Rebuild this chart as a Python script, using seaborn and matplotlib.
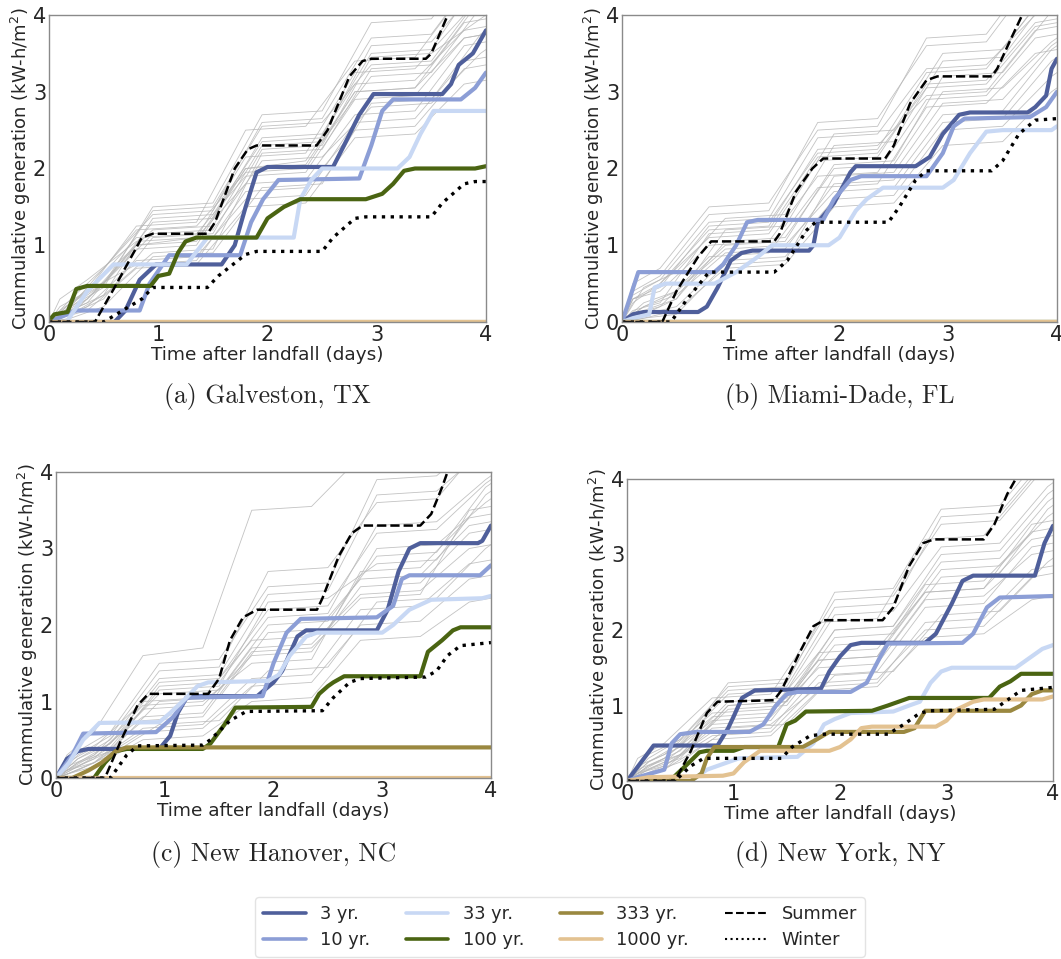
import matplotlib
matplotlib.use("Agg")
import pandas as pd
import matplotlib.pyplot as plt
from matplotlib.lines import Line2D
import seaborn as sns

sns.set_theme(style="white")
plt.rcParams["font.family"] = ["DejaVu Sans"]

# series names / colours
names = ["3 yr.", "10 yr.", "33 yr.", "100 yr.", "333 yr.", "1000 yr.", "Summer", "Winter"]
colors = {"3 yr.": "#4f5f9b", "10 yr.": "#8c9ed6", "33 yr.": "#c8d8f4",
          "100 yr.": "#4a6412", "333 yr.": "#9a8840", "1000 yr.": "#e3c291",
          "Summer": "black", "Winter": "black"}

# ---- (a) Galveston, TX ----
galveston = {
    "3 yr.": ([0, 0.6, 0.7, 0.83, 0.98, 1.58, 1.7, 1.8, 1.9, 2.0, 2.6, 2.7, 2.84, 2.97, 3.6, 3.68, 3.75, 3.88, 4.0],
              [0, 0, 0.15, 0.55, 0.75, 0.75, 1.0, 1.5, 1.95, 2.02, 2.02, 2.3, 2.7, 2.97, 2.97, 3.1, 3.35, 3.5, 3.8]),
    "10 yr.": ([0, 0.25, 0.83, 0.92, 1.1, 1.75, 1.85, 1.96, 2.1, 2.84, 2.95, 3.05, 3.15, 3.77, 3.9, 4.0],
               [0, 0.15, 0.15, 0.5, 0.87, 0.87, 1.3, 1.6, 1.85, 1.87, 2.3, 2.75, 2.9, 2.9, 3.05, 3.25]),
    "33 yr.": ([0, 0.16, 0.35, 0.59, 1.26, 1.45, 2.24, 2.3, 2.4, 2.5, 3.19, 3.3, 3.4, 3.52, 4.0],
               [0, 0, 0.4, 0.75, 0.75, 1.1, 1.1, 1.6, 1.85, 2.0, 2.0, 2.15, 2.45, 2.75, 2.75]),
    "100 yr.": ([0, 0.05, 0.17, 0.25, 0.35, 0.93, 1.0, 1.1, 1.18, 1.25, 1.35, 1.9, 2.0, 2.15, 2.3, 2.9, 3.05, 3.15, 3.25, 3.35, 3.9, 4.0],
                [0.02, 0.1, 0.13, 0.43, 0.47, 0.47, 0.6, 0.63, 0.9, 1.05, 1.1, 1.1, 1.35, 1.5, 1.6, 1.6, 1.67, 1.8, 1.97, 2.0, 2.0, 2.03]),
    "333 yr.": ([0, 4.0], [0, 0]),
    "1000 yr.": ([0, 4.0], [0, 0]),
    "Summer": ([0, 0.42, 0.6, 0.85, 0.95, 1.45, 1.52, 1.7, 1.82, 1.9, 2.45, 2.55, 2.75, 2.87, 2.95, 3.45, 3.5, 3.65],
               [0, 0, 0.45, 1.1, 1.15, 1.15, 1.3, 2.0, 2.25, 2.3, 2.3, 2.5, 3.2, 3.4, 3.43, 3.43, 3.5, 4.0]),
    "Winter": ([0, 0.5, 0.85, 0.95, 1.45, 1.55, 1.8, 1.9, 2.5, 2.6, 2.8, 2.9, 3.5, 3.6, 3.8, 3.9, 4.0],
               [0, 0, 0.3, 0.45, 0.45, 0.6, 0.88, 0.92, 0.92, 1.1, 1.35, 1.37, 1.37, 1.55, 1.8, 1.83, 1.83]),
}

# ---- (b) Miami-Dade, FL ----
miami = {
    "3 yr.": ([0, 0.1, 0.2, 0.7, 0.78, 0.88, 1.0, 1.1, 1.2, 1.72, 1.76, 1.8, 1.95, 2.1, 2.15, 2.7, 2.83, 2.95, 3.1, 3.2, 3.73, 3.8, 3.9, 3.95, 4.0],
              [0, 0.1, 0.13, 0.13, 0.2, 0.45, 0.8, 0.9, 0.93, 0.93, 1.0, 1.3, 1.55, 1.95, 2.03, 2.03, 2.15, 2.45, 2.7, 2.73, 2.73, 2.8, 2.95, 3.3, 3.43]),
    "10 yr.": ([0, 0.15, 0.85, 0.93, 1.05, 1.15, 1.25, 1.85, 1.95, 2.1, 2.2, 2.8, 2.95, 3.05, 3.15, 3.75, 3.9, 4.0],
               [0, 0.65, 0.65, 0.75, 1.0, 1.3, 1.33, 1.33, 1.6, 1.85, 1.9, 1.9, 2.2, 2.55, 2.65, 2.67, 2.8, 3.0]),
    "33 yr.": ([0, 0.1, 0.25, 0.3, 0.4, 0.85, 1.05, 1.25, 1.38, 1.9, 2.0, 2.15, 2.25, 2.4, 2.95, 3.05, 3.2, 3.35, 3.5, 3.95, 4.0],
               [0, 0.05, 0.1, 0.45, 0.5, 0.5, 0.65, 0.85, 1.0, 1.0, 1.1, 1.45, 1.6, 1.75, 1.75, 1.85, 2.2, 2.48, 2.5, 2.5, 2.55]),
    "100 yr.": ([0, 4.0], [0, 0]),
    "333 yr.": ([0, 4.0], [0, 0]),
    "1000 yr.": ([0, 4.0], [0, 0]),
    "Summer": ([0, 0.37, 0.5, 0.7, 0.82, 1.4, 1.45, 1.6, 1.75, 1.85, 2.42, 2.5, 2.65, 2.8, 2.9, 3.4, 3.45, 3.58, 3.68],
               [0, 0, 0.4, 0.85, 1.05, 1.05, 1.15, 1.7, 2.0, 2.13, 2.13, 2.3, 2.85, 3.15, 3.2, 3.2, 3.3, 3.7, 4.0]),
    "Winter": ([0, 0.45, 0.6, 0.8, 1.4, 1.52, 1.7, 1.78, 2.45, 2.55, 2.7, 2.8, 3.4, 3.5, 3.65, 3.8, 4.0],
               [0, 0, 0.3, 0.65, 0.65, 0.8, 1.2, 1.3, 1.3, 1.5, 1.85, 1.97, 1.97, 2.1, 2.45, 2.63, 2.65]),
}

# ---- (c) New Hanover, NC ----
new_hanover = {
    "3 yr.": ([0, 0.1, 0.2, 0.3, 0.95, 1.05, 1.12, 1.2, 1.3, 1.85, 2.0, 2.08, 2.22, 2.3, 2.95, 3.05, 3.15, 3.25, 3.35, 3.88, 3.92, 4.0],
              [0, 0.25, 0.35, 0.38, 0.38, 0.55, 0.85, 1.05, 1.07, 1.07, 1.25, 1.4, 1.85, 1.93, 1.93, 2.2, 2.7, 3.0, 3.07, 3.07, 3.1, 3.3]),
    "10 yr.": ([0, 0.15, 0.25, 0.92, 1.0, 1.08, 1.2, 1.9, 2.0, 2.12, 2.25, 2.95, 3.05, 3.1, 3.18, 3.25, 3.9, 4.0],
               [0, 0.3, 0.58, 0.6, 0.7, 0.8, 1.05, 1.07, 1.5, 1.9, 2.08, 2.1, 2.2, 2.25, 2.6, 2.65, 2.65, 2.78]),
    "33 yr.": ([0, 0.12, 0.25, 0.4, 0.95, 1.05, 1.2, 1.3, 1.4, 1.95, 2.05, 2.15, 2.3, 2.4, 3.0, 3.1, 3.25, 3.45, 3.92, 4.0],
               [0, 0.2, 0.5, 0.72, 0.73, 0.85, 1.05, 1.2, 1.25, 1.27, 1.35, 1.6, 1.85, 1.9, 1.9, 2.0, 2.2, 2.33, 2.35, 2.38]),
    "100 yr.": ([0, 0.35, 0.45, 0.55, 0.65, 1.35, 1.42, 1.55, 1.65, 2.35, 2.42, 2.5, 2.55, 2.65, 3.35, 3.42, 3.55, 3.65, 3.72, 4.0],
                [0, 0, 0.2, 0.35, 0.38, 0.38, 0.45, 0.7, 0.92, 0.93, 1.1, 1.2, 1.25, 1.33, 1.33, 1.65, 1.8, 1.93, 1.97, 1.97]),
    "333 yr.": ([0, 0.15, 0.3, 0.42, 0.55, 0.65, 4.0], [0, 0, 0.1, 0.2, 0.35, 0.4, 0.4]),
    "1000 yr.": ([0, 4.0], [0, 0]),
    "Summer": ([0, 0.45, 0.6, 0.75, 0.85, 1.4, 1.5, 1.6, 1.72, 1.85, 2.4, 2.45, 2.6, 2.72, 2.82, 3.35, 3.45, 3.55, 3.6],
               [0, 0, 0.5, 0.95, 1.1, 1.1, 1.3, 1.8, 2.1, 2.2, 2.2, 2.35, 2.9, 3.2, 3.3, 3.3, 3.45, 3.8, 4.0]),
    "Winter": ([0, 0.5, 0.65, 0.75, 1.35, 1.42, 1.6, 1.75, 2.45, 2.55, 2.7, 2.8, 3.4, 3.5, 3.6, 3.72, 4.0],
               [0, 0, 0.3, 0.42, 0.43, 0.5, 0.75, 0.87, 0.88, 1.05, 1.25, 1.3, 1.32, 1.4, 1.6, 1.73, 1.77]),
}

# ---- (d) New York, NY ----
new_york = {
    "3 yr.": ([0, 0.25, 0.85, 0.95, 1.0, 1.08, 1.2, 1.82, 1.9, 2.0, 2.1, 2.2, 2.8, 2.9, 3.05, 3.15, 3.25, 3.83, 3.92, 4.0],
              [0, 0.47, 0.47, 0.7, 0.85, 1.1, 1.2, 1.22, 1.45, 1.65, 1.8, 1.83, 1.83, 1.95, 2.35, 2.65, 2.72, 2.72, 3.15, 3.38]),
    "10 yr.": ([0, 0.1, 0.35, 0.42, 0.5, 0.65, 1.15, 1.28, 1.4, 1.5, 1.6, 2.1, 2.25, 2.38, 2.45, 3.15, 3.25, 3.38, 3.5, 4.0],
               [0, 0.05, 0.15, 0.5, 0.62, 0.65, 0.65, 0.75, 1.0, 1.15, 1.18, 1.18, 1.3, 1.65, 1.82, 1.83, 1.95, 2.3, 2.43, 2.45]),
    "33 yr.": ([0, 0.6, 0.75, 0.95, 1.05, 1.6, 1.75, 1.85, 1.95, 2.1, 2.5, 2.65, 2.75, 2.85, 2.95, 3.05, 3.65, 3.75, 3.9, 4.0],
               [0, 0, 0.15, 0.25, 0.3, 0.32, 0.5, 0.75, 0.82, 0.9, 0.92, 1.0, 1.05, 1.3, 1.45, 1.5, 1.5, 1.6, 1.75, 1.8]),
    "100 yr.": ([0, 0.4, 0.55, 0.68, 0.75, 1.0, 1.1, 1.42, 1.5, 1.58, 1.68, 2.3, 2.45, 2.65, 3.4, 3.5, 3.6, 3.7, 4.0],
                [0, 0, 0.2, 0.38, 0.4, 0.4, 0.45, 0.45, 0.75, 0.8, 0.92, 0.93, 1.0, 1.1, 1.1, 1.25, 1.32, 1.42, 1.42]),
    "333 yr.": ([0, 0.6, 0.7, 0.75, 0.82, 1.65, 1.78, 1.9, 2.6, 2.7, 2.8, 3.6, 3.7, 3.8, 3.9, 4.0],
                [0, 0, 0.1, 0.3, 0.45, 0.45, 0.55, 0.65, 0.65, 0.7, 0.93, 0.93, 1.0, 1.15, 1.2, 1.2]),
    "1000 yr.": ([0, 0.2, 0.9, 1.0, 1.1, 1.25, 1.9, 2.0, 2.1, 2.2, 2.3, 2.9, 3.0, 3.1, 3.25, 3.35, 3.9, 4.0],
                 [0, 0.05, 0.07, 0.1, 0.25, 0.4, 0.4, 0.45, 0.55, 0.7, 0.72, 0.72, 0.8, 0.95, 1.05, 1.08, 1.08, 1.12]),
    "Summer": ([0, 0.45, 0.6, 0.75, 0.85, 1.38, 1.45, 1.62, 1.75, 1.85, 2.4, 2.5, 2.65, 2.78, 2.88, 3.35, 3.45, 3.57, 3.65],
               [0, 0, 0.4, 0.9, 1.05, 1.07, 1.2, 1.7, 2.05, 2.13, 2.13, 2.3, 2.85, 3.15, 3.2, 3.2, 3.4, 3.8, 4.0]),
    "Winter": ([0, 0.45, 0.6, 0.72, 1.45, 1.55, 1.72, 1.85, 2.45, 2.6, 2.75, 2.85, 3.45, 3.55, 3.7, 4.0],
               [0, 0, 0.2, 0.3, 0.3, 0.45, 0.6, 0.62, 0.62, 0.75, 0.9, 0.93, 0.95, 1.05, 1.2, 1.24]),
}

# background ensemble: two time grids, curves alternate between them
grid_early = [0, 0.1, 0.35, 0.8, 1.35, 1.8, 2.35, 2.8, 3.35, 3.8, 4.0]
grid_late = [0, 0.2, 0.5, 0.95, 1.5, 1.95, 2.5, 2.95, 3.5, 3.95, 4.0]

gray_a = [
    [0, 0.1, 0.3, 1.0, 1.05, 2.0, 2.05, 3.0, 3.05, 3.9, 3.95],
    [0, 0.2, 0.5, 1.3, 1.35, 2.4, 2.45, 3.5, 3.55, 4.5, 4.6],
    [0, 0.05, 0.2, 0.8, 0.85, 1.6, 1.65, 2.6, 2.65, 3.4, 3.45],
    [0, 0.3, 0.7, 1.4, 1.45, 2.6, 2.65, 3.7, 3.75, 4.6, 4.7],
    [0, 0.1, 0.4, 1.1, 1.15, 1.9, 1.95, 2.9, 2.95, 3.7, 3.75],
    [0, 0.15, 0.35, 0.9, 0.95, 2.2, 2.25, 3.3, 3.35, 4.2, 4.25],
    [0, 0.05, 0.15, 0.7, 0.75, 1.5, 1.55, 2.4, 2.45, 3.1, 3.15],
    [0, 0.25, 0.6, 1.2, 1.25, 2.3, 2.35, 3.2, 3.25, 4.1, 4.15],
    [0, 0.1, 0.25, 1.0, 1.1, 1.8, 1.85, 2.7, 2.75, 3.6, 3.65],
    [0, 0.2, 0.45, 1.5, 1.55, 2.7, 2.75, 3.9, 3.95, 4.8, 4.9],
    [0, 0.05, 0.3, 0.95, 1.0, 2.0, 2.1, 3.1, 3.15, 3.8, 3.85],
    [0, 0.1, 0.5, 1.15, 1.2, 2.1, 2.15, 2.8, 2.85, 3.5, 3.55],
    [0, 0.15, 0.4, 1.25, 1.3, 2.5, 2.55, 3.4, 3.45, 4.3, 4.35],
    [0, 0.05, 0.2, 0.85, 0.9, 1.75, 1.8, 2.85, 2.9, 3.75, 3.8],
    [0, 0.3, 0.55, 1.05, 1.1, 2.15, 2.2, 3.25, 3.3, 4.0, 4.05],
    [0, 0.1, 0.35, 1.35, 1.4, 2.35, 2.4, 3.6, 3.65, 4.4, 4.45],
    [0, 0.2, 0.4, 0.75, 0.8, 1.7, 1.75, 2.5, 2.55, 3.3, 3.35],
    [0, 0.1, 0.3, 1.1, 1.15, 2.25, 2.3, 3.45, 3.5, 3.95, 4.0],
    [0, 0.05, 0.45, 1.2, 1.25, 1.95, 2.0, 3.0, 3.05, 3.7, 3.75],
    [0, 0.25, 0.5, 1.45, 1.5, 2.55, 2.6, 3.35, 3.4, 4.25, 4.3],
]
gray_b = [
    [0, 0.3, 0.4, 1.0, 1.05, 1.9, 1.95, 2.9, 2.95, 3.7, 3.75],
    [0, 0.15, 0.3, 1.2, 1.25, 2.3, 2.35, 3.4, 3.45, 4.3, 4.4],
    [0, 0.4, 0.6, 1.4, 1.45, 2.6, 2.65, 3.6, 3.65, 4.5, 4.6],
    [0, 0.1, 0.2, 0.8, 0.85, 1.6, 1.65, 2.5, 2.55, 3.2, 3.25],
    [0, 0.25, 0.5, 1.1, 1.15, 2.1, 2.15, 3.1, 3.15, 3.9, 3.95],
    [0, 0.2, 0.35, 0.9, 0.95, 1.8, 1.85, 2.7, 2.75, 3.55, 3.6],
    [0, 0.5, 0.7, 1.5, 1.55, 2.5, 2.55, 3.7, 3.75, 4.6, 4.7],
    [0, 0.05, 0.15, 0.7, 0.75, 1.5, 1.55, 2.3, 2.35, 3.0, 3.05],
    [0, 0.3, 0.45, 1.25, 1.3, 2.2, 2.25, 3.25, 3.3, 4.1, 4.15],
    [0, 0.1, 0.3, 1.05, 1.1, 2.0, 2.05, 3.0, 3.05, 3.65, 3.7],
    [0, 0.35, 0.55, 1.3, 1.35, 2.4, 2.45, 3.3, 3.35, 4.0, 4.05],
    [0, 0.2, 0.4, 0.95, 1.0, 1.7, 1.75, 2.6, 2.65, 3.4, 3.45],
    [0, 0.15, 0.25, 1.15, 1.2, 2.15, 2.2, 3.05, 3.1, 3.85, 3.9],
    [0, 0.45, 0.65, 1.35, 1.4, 2.45, 2.5, 3.5, 3.55, 4.4, 4.45],
    [0, 0.1, 0.2, 0.85, 0.9, 1.75, 1.8, 2.8, 2.85, 3.5, 3.55],
    [0, 0.25, 0.4, 1.0, 1.05, 2.05, 2.1, 3.2, 3.25, 4.05, 4.1],
    [0, 0.3, 0.5, 1.2, 1.25, 2.25, 2.3, 2.95, 3.0, 3.8, 3.85],
    [0, 0.05, 0.1, 0.75, 0.8, 1.9, 1.95, 2.85, 2.9, 3.6, 3.65],
]
gray_c = [
    [0, 0.2, 0.4, 1.0, 1.05, 1.8, 1.85, 2.6, 2.65, 3.3, 3.35],
    [0, 0.1, 0.3, 0.7, 0.75, 1.4, 1.45, 2.3, 2.35, 3.0, 3.05],
    [0, 0.3, 0.6, 1.6, 1.7, 3.5, 3.55, 4.2, 4.3, 4.8, 4.9],
    [0, 0.15, 0.35, 1.2, 1.25, 2.1, 2.15, 3.3, 3.35, 3.9, 3.95],
    [0, 0.05, 0.2, 0.6, 0.65, 1.2, 1.25, 2.0, 2.05, 2.6, 2.65],
    [0, 0.25, 0.5, 1.3, 1.35, 2.4, 2.45, 3.7, 3.75, 4.3, 4.35],
    [0, 0.1, 0.25, 0.9, 0.95, 1.6, 1.65, 2.5, 2.55, 3.2, 3.25],
    [0, 0.2, 0.45, 1.1, 1.15, 2.0, 2.05, 2.9, 2.95, 3.8, 3.85],
    [0, 0.05, 0.15, 0.5, 0.55, 1.0, 1.05, 1.8, 1.85, 2.3, 2.35],
    [0, 0.3, 0.55, 1.4, 1.45, 2.7, 2.75, 3.6, 3.65, 4.4, 4.5],
    [0, 0.15, 0.3, 0.8, 0.85, 1.7, 1.75, 2.4, 2.45, 3.0, 3.05],
    [0, 0.2, 0.35, 1.0, 1.05, 1.9, 1.95, 3.0, 3.05, 3.6, 3.65],
    [0, 0.1, 0.2, 0.65, 0.7, 1.3, 1.35, 2.2, 2.25, 2.8, 2.85],
    [0, 0.25, 0.45, 1.25, 1.3, 2.2, 2.25, 3.2, 3.25, 3.85, 3.9],
    [0, 0.1, 0.3, 0.95, 1.0, 1.5, 1.55, 2.7, 2.75, 3.4, 3.45],
    [0, 0.35, 0.6, 1.5, 1.55, 2.5, 2.55, 3.9, 3.95, 4.5, 4.6],
    [0, 0.05, 0.2, 0.75, 0.8, 1.65, 1.7, 2.35, 2.4, 3.5, 3.55],
    [0, 0.15, 0.4, 1.15, 1.2, 2.3, 2.35, 2.8, 2.85, 3.7, 3.75],
]
gray_d = [
    [0, 0.2, 0.35, 0.9, 0.95, 1.7, 1.75, 2.5, 2.55, 3.2, 3.25],
    [0, 0.1, 0.25, 0.7, 0.75, 1.4, 1.45, 2.2, 2.25, 2.9, 2.95],
    [0, 0.3, 0.5, 1.1, 1.15, 2.1, 2.15, 3.2, 3.25, 4.0, 4.1],
    [0, 0.15, 0.3, 1.0, 1.05, 1.9, 1.95, 2.8, 2.85, 3.5, 3.55],
    [0, 0.05, 0.15, 0.55, 0.6, 1.2, 1.25, 1.9, 1.95, 2.4, 2.45],
    [0, 0.25, 0.45, 1.3, 1.35, 2.4, 2.45, 3.4, 3.45, 4.2, 4.3],
    [0, 0.1, 0.3, 0.85, 0.9, 1.6, 1.65, 2.6, 2.65, 3.3, 3.35],
    [0, 0.2, 0.4, 1.05, 1.1, 2.0, 2.05, 3.0, 3.05, 3.8, 3.85],
    [0, 0.05, 0.2, 0.6, 0.65, 1.3, 1.35, 2.0, 2.05, 2.7, 2.75],
    [0, 0.3, 0.55, 1.2, 1.25, 2.3, 2.35, 3.5, 3.55, 4.3, 4.4],
    [0, 0.15, 0.3, 0.8, 0.85, 1.5, 1.55, 2.4, 2.45, 3.0, 3.05],
    [0, 0.2, 0.35, 0.95, 1.0, 1.8, 1.85, 2.7, 2.75, 3.6, 3.65],
    [0, 0.1, 0.2, 0.65, 0.7, 1.4, 1.45, 2.3, 2.35, 3.1, 3.15],
    [0, 0.25, 0.5, 1.15, 1.2, 2.2, 2.25, 3.1, 3.15, 3.9, 3.95],
    [0, 0.1, 0.25, 0.75, 0.8, 1.6, 1.65, 2.5, 2.55, 3.4, 3.45],
    [0, 0.35, 0.55, 1.25, 1.3, 2.5, 2.55, 3.6, 3.65, 4.4, 4.5],
    [0, 0.05, 0.15, 0.7, 0.75, 1.25, 1.3, 2.1, 2.15, 2.8, 2.85],
    [0, 0.15, 0.35, 1.0, 1.05, 2.0, 2.05, 2.9, 2.95, 3.7, 3.75],
]

captions = ["(a) Galveston, TX", "(b) Miami-Dade, FL", "(c) New Hanover, NC", "(d) New York, NY"]

W, H = 1061, 959
fig = plt.figure(figsize=(W / 100, H / 100), dpi=100)

# axes boxes in pixels: left, right, top, bottom ; caption y
boxes = [(49, 486, 15, 322, 397), (622, 1057, 15, 322, 397),
         (56, 491, 472, 778, 855), (627, 1053, 479, 781, 855)]
panels = [galveston, miami, new_hanover, new_york]
grays = [gray_a, gray_b, gray_c, gray_d]

for (l, r, t, b, cy), panel, gray, cap in zip(boxes, panels, grays, captions):
    ax = fig.add_axes([l / W, 1 - b / H, (r - l) / W, (b - t) / H])

    rows = []
    for i, ys in enumerate(gray):
        ts = grid_early if i % 2 == 0 else grid_late
        for tt, yy in zip(ts, ys):
            rows.append((i, tt, yy))
    gdf = pd.DataFrame(rows, columns=["run", "t", "y"])
    sns.lineplot(data=gdf, x="t", y="y", units="run", estimator=None, sort=False,
                 color="#b8b8b8", lw=0.6, alpha=0.85, ax=ax, legend=False)

    for name in names:
        ts, ys = panel[name]
        if name == "Summer":
            kw = dict(lw=1.8, linestyle="--")
        elif name == "Winter":
            kw = dict(lw=2.4, linestyle=":")
        else:
            kw = dict(lw=3.0)
        sns.lineplot(x=ts, y=ys, estimator=None, sort=False, color=colors[name],
                     ax=ax, legend=False, **kw)

    ax.set_xlim(0, 4)
    ax.set_ylim(0, 4)
    ax.set_xticks([0, 1, 2, 3, 4])
    ax.set_yticks([0, 1, 2, 3, 4])
    ax.tick_params(length=0, pad=2, labelsize=15)
    for sp in ax.spines.values():
        sp.set_color("#8a8a8a")
        sp.set_linewidth(1.0)
    ax.set_xlabel("Time after landfall (days)", fontsize=13.3, labelpad=1)
    ax.set_ylabel("Cummulative generation (kW-h/m$^2$)", fontsize=13, labelpad=0)

    fig.text((l + r) / 2 / W, 1 - cy / H, cap, ha="center", va="center",
             fontsize=18.5, family="cmr10")

handles = []
for name in names:
    if name == "Summer":
        handles.append(Line2D([], [], color="black", lw=1.5, linestyle="--"))
    elif name == "Winter":
        handles.append(Line2D([], [], color="black", lw=1.5, linestyle=":"))
    else:
        handles.append(Line2D([], [], color=colors[name], lw=2.6))
fig.legend(handles, names, loc="center", bbox_to_anchor=(560 / W, 1 - 927 / H),
           ncol=4, fontsize=12.8, handlelength=2.4, columnspacing=2.0,
           labelspacing=0.45, borderpad=0.45,
           frameon=True, edgecolor="#dddddd")

fig.savefig("out.png", dpi=100)
